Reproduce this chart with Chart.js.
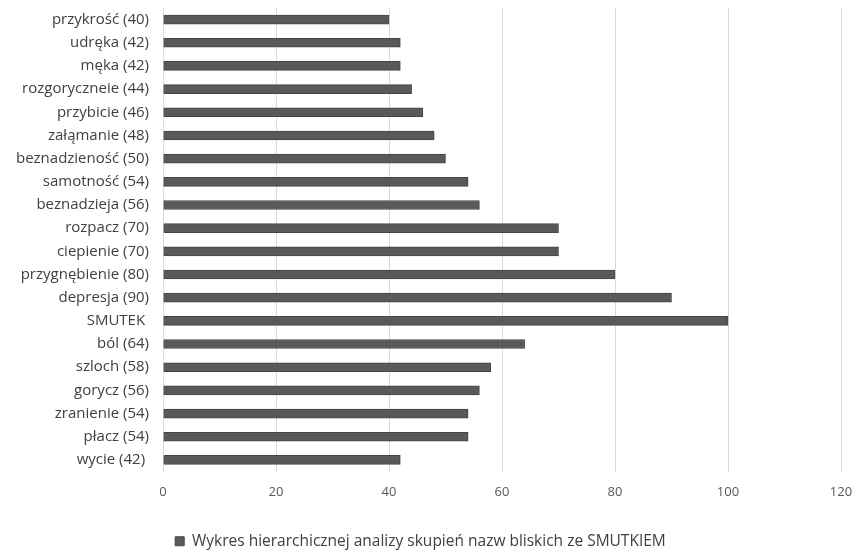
<!DOCTYPE html>
<html>
<head>
<meta charset="utf-8">
<script src="https://cdn.jsdelivr.net/npm/chart.js@4"></script>
<style>
html,body{margin:0;padding:0;background:#fff;}
#wrap{width:855px;height:559px;position:relative;}
</style>
</head>
<body>
<div id="wrap"><canvas id="c" width="855" height="559"></canvas></div>
<script>
const categories = ["przykrość (40)","udręka (42)","męka (42)","rozgoryczneie (44)","przybicie (46)","załąmanie (48)","beznadzieność (50)","samotność (54)","beznadzieja (56)","rozpacz (70)","ciepienie (70)","przygnębienie (80)","depresja (90)","SMUTEK ","ból (64)","szloch (58)","gorycz (56)","zranienie (54)","płacz (54)","wycie (42) "];
const values = [40,42,42,44,46,48,50,54,56,70,70,80,90,100,64,58,56,54,54,42];
const xTicks = [0,20,40,60,80,100,120];
const seriesName = "Wykres hierarchicznej analizy skupień nazw bliskich ze SMUTKIEM";

const FONT = "'Open Sans', Lato, sans-serif";
new Chart(document.getElementById('c'), {
  type: 'bar',
  data: {
    labels: categories,
    datasets: [{
      label: seriesName,
      data: values,
      backgroundColor: '#595959',
      borderColor: '#454545',
      borderWidth: 1,
      barThickness: 9
    }]
  },
  options: {
    indexAxis: 'y',
    responsive: false,
    animation: false,
    layout: { padding: { top: 8, right: 14, left: 0, bottom: 0 } },
    scales: {
      x: {
        min: xTicks[0], max: xTicks[xTicks.length-1],
        afterBuildTicks: s => { s.ticks = xTicks.map(v => ({value: v})); },
        grid: { color: '#d9d9d9', lineWidth: 1, drawTicks: false },
        border: { display: false },
        ticks: { color: '#595959', font: { family: FONT, size: 13 }, padding: 13 },
        afterFit: s => { s.height = 60; s.paddingLeft = 0; s.paddingRight = 0; }
      },
      y: {
        grid: { display: false, drawTicks: false },
        border: { display: false },
        ticks: { color: '#404040', font: { family: FONT, size: 15 }, padding: 14, autoSkip: false },
        afterFit: s => { s.width = 163; s.paddingTop = 0; s.paddingBottom = 0; }
      }
    },
    plugins: {
      legend: {
        position: 'bottom',
        labels: { color: '#404040', font: { family: FONT, size: 15.5 }, boxWidth: 9, boxHeight: 9, padding: 2 }
      },
      tooltip: { enabled: false }
    }
  }
});
</script>
</body>
</html>
